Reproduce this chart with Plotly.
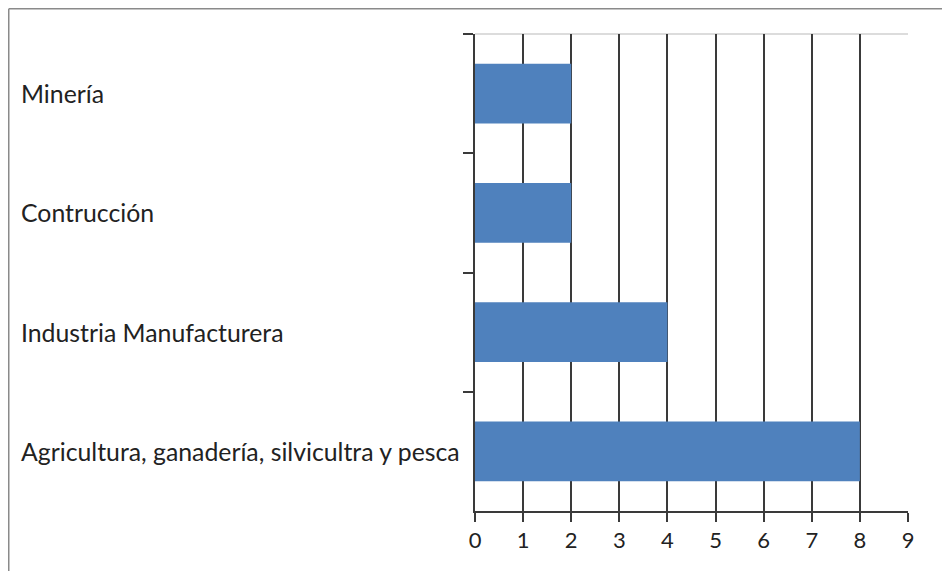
import plotly.graph_objects as go

categories = ["Minería", "Contrucción", "Industria Manufacturera",
              "Agricultura, ganadería, silvicultra y pesca"]
values = [2, 2, 4, 8]
x_ticks = [0, 1, 2, 3, 4, 5, 6, 7, 8, 9]

# the page body adds an 8px margin on each side; size the figure to fit the window
OFF = 8
W, H = 950 - 2 * OFF, 579 - 2 * OFF
L, T = 475 - OFF, 34 - OFF
R = W - (908 - OFF)
B = H - (511 - OFF)
pw, ph = W - L - R, H - T - B

def px_x(p):
    return (p - L) / pw

def px_y(p):
    return (H - B - p) / ph

fig = go.Figure(go.Bar(
    x=values, y=categories, orientation="h",
    marker=dict(color="#4F81BD", line=dict(width=0)),
    width=0.5,
))

font_fam = "Lato, 'Open Sans', sans-serif"

fig.update_layout(
    width=W, height=H,
    margin=dict(l=L, r=R, t=T, b=B),
    paper_bgcolor="white", plot_bgcolor="white",
    showlegend=False,
    font=dict(family=font_fam, size=22, color="#222"),
    xaxis=dict(range=[0, 9], tickvals=x_ticks, ticktext=[str(v) for v in x_ticks],
               showgrid=True, gridcolor="#3a3a3a", gridwidth=1.5,
               showline=True, linecolor="#3a3a3a", linewidth=1.5,
               ticks="outside", ticklen=9, tickwidth=1.5, tickcolor="#3a3a3a",
               zeroline=False, fixedrange=True,
               tickfont=dict(size=22, color="#222")),
    yaxis=dict(autorange="reversed", showticklabels=False,
               showline=True, linecolor="#3a3a3a", linewidth=1.5,
               ticks="outside", ticklen=10, tickwidth=1.5, tickcolor="#3a3a3a",
               tickson="boundaries", showgrid=False, zeroline=False),
)

# left-aligned category labels
for c in categories:
    fig.add_annotation(x=px_x(20 - OFF - 1), xref="paper", y=c, yref="y",
                       text=c, showarrow=False, xanchor="left", yanchor="middle",
                       font=dict(family=font_fam, size=24.8, color="#222"))

# light top border of plot area
fig.add_shape(type="line", xref="paper", yref="paper", x0=0, x1=1, y0=1, y1=1,
              line=dict(color="#d0d0d0", width=1.5), layer="below")

# outer frame: only top and left edges are visible in the reference
frame = dict(color="#8a8a8a", width=1.5)
fig.add_shape(type="line", xref="paper", yref="paper",
              x0=px_x(0.75), x1=px_x(W + 20), y0=px_y(0.75), y1=px_y(0.75), line=frame)
fig.add_shape(type="line", xref="paper", yref="paper",
              x0=px_x(0.75), x1=px_x(0.75), y0=px_y(0.75), y1=px_y(H + 20), line=frame)

fig.write_html("out.html")
